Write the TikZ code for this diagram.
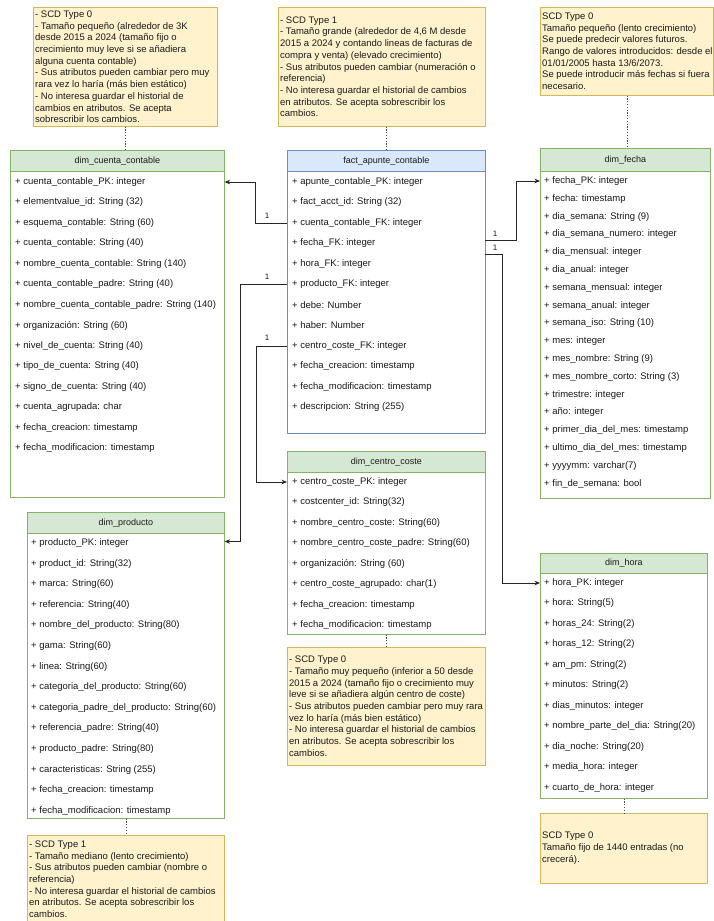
\documentclass[tikz,border=0pt]{standalone}
\usepackage{fontspec}
\setmainfont{Liberation Sans}
\usetikzlibrary{arrows.meta,calc}
\definecolor{notefill}{HTML}{FFF2CC}
\definecolor{noteline}{HTML}{D6B656}
\definecolor{gfill}{HTML}{D5E8D4}
\definecolor{gline}{HTML}{82B366}
\definecolor{bfill}{HTML}{DAE8FC}
\definecolor{bline}{HTML}{6C8EBF}
\definecolor{txt}{HTML}{1A1A1A}
\begin{document}
\begin{tikzpicture}[x=1pt,y=-1pt,
 note/.style={draw=noteline, fill=notefill, line width=0.6pt, anchor=north west, inner sep=0pt},
 notetext/.style={anchor=west, align=left, inner sep=0pt, text=txt, font=\fontsize{9.5}{11.7}\selectfont},
 tbody/.style={draw=#1, fill=white, line width=0.6pt, anchor=north west, inner sep=0pt},
 thead/.style 2 args={draw=#2, fill=#1, line width=0.6pt, anchor=north west, inner sep=0pt, font=\fontsize{9}{11}\selectfont, text=txt},
 row/.style={anchor=west, inner sep=0pt, text=txt, font=\fontsize{9.5}{11}\selectfont},
 conn/.style={line width=0.7pt, draw=black!85, -{Stealth[length=5.5pt,width=4.5pt]}},
 card/.style={font=\fontsize{8}{9}\selectfont, text=txt, inner sep=0pt},
 notelink/.style={draw=black!70, line width=0.6pt, dash pattern=on 1.2pt off 1.6pt}
]
\useasboundingbox (0,0) rectangle (713,921);
\fill[white] (0,0) rectangle (713,921);

% ---------- tables ----------
% dim_cuenta_contable
\node[tbody=gline, minimum width=214pt, minimum height=347pt] (cc-b) at (10,150) {};
\node[thead={gfill}{gline}, minimum width=214pt, minimum height=21pt] (cc-h) at (10,150) {dim\_cuenta\_contable};
\foreach \t [count=\i] in {cuenta\_contable\_PK: integer, elementvalue\_id: String (32), esquema\_contable: String (60), cuenta\_contable: String (40), nombre\_cuenta\_contable: String (140), cuenta\_contable\_padre: String (40), nombre\_cuenta\_contable\_padre: String (140), organización: String (60), nivel\_de\_cuenta: String (40), tipo\_de\_cuenta: String (40), signo\_de\_cuenta: String (40), cuenta\_agrupada: char, fecha\_creacion: timestamp, fecha\_modificacion: timestamp}
  \node[row] (cc-\i) at (15,{182+(\i-1)*20.5}) {+ \t};

% fact_apunte_contable
\node[tbody=bline, minimum width=198pt, minimum height=283pt] (fact-b) at (287,150) {};
\node[thead={bfill}{bline}, minimum width=198pt, minimum height=21pt] (fact-h) at (287,150) {fact\_apunte\_contable};
\foreach \t [count=\i] in {apunte\_contable\_PK: integer, fact\_acct\_id: String (32), cuenta\_contable\_FK: integer, fecha\_FK: integer, hora\_FK: integer, producto\_FK: integer, debe: Number, haber: Number, centro\_coste\_FK: integer, fecha\_creacion: timestamp, fecha\_modificacion: timestamp, descripcion: String (255)}
  \node[row] (f-\i) at (292,{182+(\i-1)*20.5}) {+ \t};

% dim_fecha
\node[tbody=gline, minimum width=170pt, minimum height=350pt] (fe-b) at (540,148) {};
\node[thead={gfill}{gline}, minimum width=170pt, minimum height=23pt] (fe-h) at (540,148) {dim\_fecha};
\foreach \t [count=\i] in {fecha\_PK: integer, fecha: timestamp, dia\_semana: String (9), dia\_semana\_numero: integer, dia\_mensual: integer, dia\_anual: integer, semana\_mensual: integer, semana\_anual: integer, semana\_iso: String (10), mes: integer, mes\_nombre: String (9), mes\_nombre\_corto: String (3), trimestre: integer, año: integer, primer\_dia\_del\_mes: timestamp, ultimo\_dia\_del\_mes: timestamp, yyyymm: varchar(7), fin\_de\_semana: bool}
  \node[row] (fe-\i) at (544,{181+(\i-1)*17.8}) {+ \t};

% dim_hora
\node[tbody=gline, minimum width=167pt, minimum height=245pt] (ho-b) at (540,553) {};
\node[thead={gfill}{gline}, minimum width=167pt, minimum height=20pt] (ho-h) at (540,553) {dim\_hora};
\foreach \t [count=\i] in {hora\_PK: integer, hora: String(5), horas\_24: String(2), horas\_12: String(2), am\_pm: String(2), minutos: String(2), dias\_minutos: integer, nombre\_parte\_del\_dia: String(20), dia\_noche: String(20), media\_hora: integer, cuarto\_de\_hora: integer}
  \node[row] (ho-\i) at (544,{583+(\i-1)*20.5}) {+ \t};

% dim_producto
\node[tbody=gline, minimum width=197pt, minimum height=306pt] (pr-b) at (27,512) {};
\node[thead={gfill}{gline}, minimum width=197pt, minimum height=21pt] (pr-h) at (27,512) {dim\_producto};
\foreach \t [count=\i] in {producto\_PK: integer, product\_id: String(32), marca: String(60), referencia: String(40), nombre\_del\_producto: String(80), gama: String(60), linea: String(60), categoria\_del\_producto: String(60), categoria\_padre\_del\_producto: String(60), referencia\_padre: String(40), producto\_padre: String(80), caracteristicas: String (255), fecha\_creacion: timestamp, fecha\_modificacion: timestamp}
  \node[row] (pr-\i) at (31,{543+(\i-1)*20.6}) {+ \t};

% dim_centro_coste
\node[tbody=gline, minimum width=198pt, minimum height=183pt] (ce-b) at (287,451) {};
\node[thead={gfill}{gline}, minimum width=198pt, minimum height=21pt] (ce-h) at (287,451) {dim\_centro\_coste};
\foreach \t [count=\i] in {centro\_coste\_PK: integer, costcenter\_id: String(32), nombre\_centro\_coste: String(60), nombre\_centro\_coste\_padre: String(60), organización: String (60), centro\_coste\_agrupado: char(1), fecha\_creacion: timestamp, fecha\_modificacion: timestamp}
  \node[row] (ce-\i) at (292,{482+(\i-1)*20.5}) {+ \t};

% ---------- notes ----------
\node[note, minimum width=184pt, minimum height=119pt] (n1) at (33,7) {};
\node[notetext] (n1t) at ([xshift=2pt]n1.west) {- SCD Type 0\\- Tamaño pequeño (alrededor de 3K\\desde 2015 a 2024 (tamaño fijo o\\crecimiento muy leve si se añadiera\\alguna cuenta contable)\\- Sus atributos pueden cambiar pero muy\\rara vez lo haría (más bien estático)\\- No interesa guardar el historial de\\cambios en atributos. Se acepta\\sobrescribir los cambios.};

\node[note, minimum width=207pt, minimum height=119pt] (n2) at (278,7) {};
\node[notetext] (n2t) at ([xshift=2pt]n2.west) {- SCD Type 1\\- Tamaño grande (alrededor de 4,6 M desde\\2015 a 2024 y contando lineas de facturas de\\compra y venta) (elevado crecimiento)\\- Sus atributos pueden cambiar (numeración o\\referencia)\\- No interesa guardar el historial de cambios\\en atributos. Se acepta sobrescribir los\\cambios.};

\node[note, minimum width=173pt, minimum height=88pt] (n3) at (540,7) {};
\node[notetext] (n3t) at ([xshift=2pt]n3.west) {SCD Type 0\\Tamaño pequeño (lento crecimiento)\\Se puede predecir valores futuros.\\Rango de valores introducidos: desde el\\01/01/2005 hasta 13/6/2073.\\Se puede introducir más fechas si fuera\\necesario.};

\node[note, minimum width=198pt, minimum height=118pt] (n4) at (287,647) {};
\node[notetext] (n4t) at ([xshift=2pt]n4.west) {- SCD Type 0\\- Tamaño muy pequeño (inferior a 50 desde\\2015 a 2024 (tamaño fijo o crecimiento muy\\leve si se añadiera algún centro de coste)\\- Sus atributos pueden cambiar pero muy rara\\vez lo haría (más bien estático)\\- No interesa guardar el historial de cambios\\en atributos. Se acepta sobrescribir los\\cambios.};

\node[note, minimum width=167pt, minimum height=70pt] (n5) at (540,813) {};
\node[notetext] (n5t) at ([xshift=2pt]n5.west) {SCD Type 0\\Tamaño fijo de 1440 entradas (no\\crecerá).};

\node[note, minimum width=197pt, minimum height=88pt] (n6) at (27,835) {};
\node[notetext] (n6t) at ([xshift=2pt]n6.west) {- SCD Type 1\\- Tamaño mediano (lento crecimiento)\\- Sus atributos pueden cambiar (nombre o\\referencia)\\- No interesa guardar el historial de cambios\\en atributos. Se acepta sobrescribir los\\cambios.};

% ---------- note links ----------
\draw[notelink] (n1.south) -- (n1.south |- cc-h.north);
\draw[notelink] (fact-h.north |- n2.south) -- (fact-h.north);
\draw[notelink] (n3.south) -- (n3.south |- fe-h.north);
\draw[notelink] (ce-b.south) -- (ce-b.south |- n4.north);
\draw[notelink] (ho-b.south) -- (ho-b.south |- n5.north);
\draw[notelink] (pr-b.south) -- (pr-b.south |- n6.north);

% ---------- connectors ----------
\draw[conn] (fact-b.west |- f-3) -- ++(-32,0) |- (cc-b.east |- cc-1);
\draw[conn] (fact-b.west |- f-6) -- ++(-47,0) |- ([yshift=1.5pt]pr-b.east |- pr-1);
\draw[conn] (fact-b.west |- f-9) -- ++(-31,0) |- (ce-b.west |- ce-1);
\coordinate (fo1) at (485,240);
\coordinate (fo2) at (485,254);
\draw[conn] (fo1) -- ++(31,0) |- (fe-b.west |- fe-1);
\draw[conn] (fo2) -- ++(17,0) |- (ho-b.west |- ho-1);

\node[card] (c1) at (267,216) {1};
\node[card] (c2) at (267,277) {1};
\node[card] (c3) at (267,338) {1};
\node[card] (c4) at (495,234) {1};
\node[card] (c5) at (495,248) {1};
\end{tikzpicture}
\end{document}
